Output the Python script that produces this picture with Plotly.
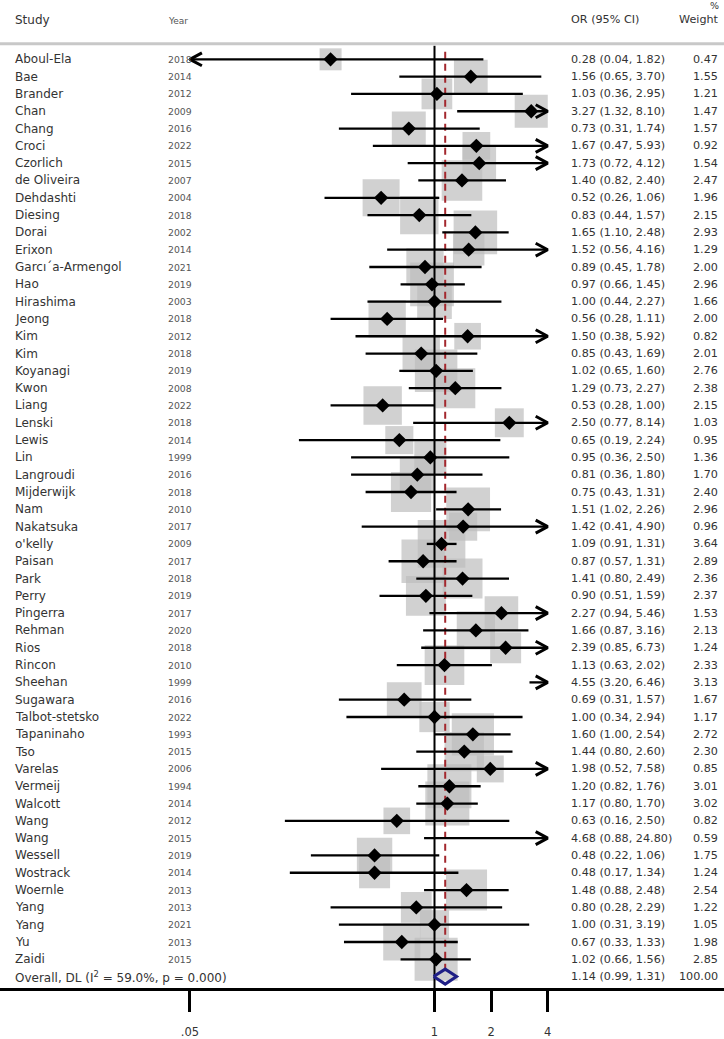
import numpy as np
import plotly.graph_objects as go

studies = ["Aboul-Ela", "Bae", "Brander", "Chan", "Chang", "Croci", "Czorlich", "de Oliveira",
           "Dehdashti", "Diesing", "Dorai", "Erixon", "Garcı´a-Armengol", "Hao", "Hirashima",
           "Jeong", "Kim", "Kim", "Koyanagi", "Kwon", "Liang", "Lenski", "Lewis", "Lin",
           "Langroudi", "Mijderwijk", "Nam", "Nakatsuka", "o'kelly", "Paisan", "Park", "Perry",
           "Pingerra", "Rehman", "Rios", "Rincon", "Sheehan", "Sugawara", "Talbot-stetsko",
           "Tapaninaho", "Tso", "Varelas", "Vermeij", "Walcott", "Wang", "Wang", "Wessell",
           "Wostrack", "Woernle", "Yang", "Yang", "Yu", "Zaidi"]
years = [2018, 2014, 2012, 2009, 2016, 2022, 2015, 2007, 2004, 2018, 2002, 2014, 2021, 2019,
         2003, 2018, 2012, 2018, 2019, 2008, 2022, 2018, 2014, 1999, 2016, 2018, 2010, 2017,
         2009, 2017, 2018, 2019, 2017, 2020, 2018, 2010, 1999, 2016, 2022, 1993, 2015, 2006,
         1994, 2014, 2012, 2015, 2019, 2014, 2013, 2013, 2021, 2013, 2015]
or_vals = [0.28, 1.56, 1.03, 3.27, 0.73, 1.67, 1.73, 1.40, 0.52, 0.83, 1.65, 1.52, 0.89, 0.97,
           1.00, 0.56, 1.50, 0.85, 1.02, 1.29, 0.53, 2.50, 0.65, 0.95, 0.81, 0.75, 1.51, 1.42,
           1.09, 0.87, 1.41, 0.90, 2.27, 1.66, 2.39, 1.13, 4.55, 0.69, 1.00, 1.60, 1.44, 1.98,
           1.20, 1.17, 0.63, 4.68, 0.48, 0.48, 1.48, 0.80, 1.00, 0.67, 1.02]
ci_low = [0.04, 0.65, 0.36, 1.32, 0.31, 0.47, 0.72, 0.82, 0.26, 0.44, 1.10, 0.56, 0.45, 0.66,
          0.44, 0.28, 0.38, 0.43, 0.65, 0.73, 0.28, 0.77, 0.19, 0.36, 0.36, 0.43, 1.02, 0.41,
          0.91, 0.57, 0.80, 0.51, 0.94, 0.87, 0.85, 0.63, 3.20, 0.31, 0.34, 1.00, 0.80, 0.52,
          0.82, 0.80, 0.16, 0.88, 0.22, 0.17, 0.88, 0.28, 0.31, 0.33, 0.66]
ci_high = [1.82, 3.70, 2.95, 8.10, 1.74, 5.93, 4.12, 2.40, 1.06, 1.57, 2.48, 4.16, 1.78, 1.45,
           2.27, 1.11, 5.92, 1.69, 1.60, 2.27, 1.00, 8.14, 2.24, 2.50, 1.80, 1.31, 2.26, 4.90,
           1.31, 1.31, 2.49, 1.59, 5.46, 3.16, 6.73, 2.02, 6.46, 1.57, 2.94, 2.54, 2.60, 7.58,
           1.76, 1.70, 2.50, 24.80, 1.06, 1.34, 2.48, 2.29, 3.19, 1.33, 1.56]
weights = [0.47, 1.55, 1.21, 1.47, 1.57, 0.92, 1.54, 2.47, 1.96, 2.15, 2.93, 1.29, 2.00, 2.96,
           1.66, 2.00, 0.82, 2.01, 2.76, 2.38, 2.15, 1.03, 0.95, 1.36, 1.70, 2.40, 2.96, 0.96,
           3.64, 2.89, 2.36, 2.37, 1.53, 2.13, 1.24, 2.33, 3.13, 1.67, 1.17, 2.72, 2.30, 0.85,
           3.01, 3.02, 0.82, 0.59, 1.75, 1.24, 2.54, 1.22, 1.05, 1.98, 2.85]
overall_or, overall_low, overall_high = 1.14, 0.99, 1.31
overall_weight = 100.00
i_squared, p_value = 59.0, 0.000

tick_vals = [0.05, 1, 2, 4]
tick_text = [".05", "1", "2", "4"]
x_clip_low, x_clip_high = 0.05, 4

# ---- geometry (pixel based layout) ----
W, H = 724, 1039
AX_Y = 991            # pixel y of x-axis line
ROW0 = 59.5           # pixel y of first row
ROWH = 17.36          # pixel spacing of rows
X1 = 434.5            # pixel x of OR = 1
DEC = 188.0           # pixels per decade


def row_of(py):
    return (py - ROW0) / ROWH


xr = [(0 - X1) / DEC, (W - X1) / DEC]
yr = [row_of(AX_Y), row_of(0)]

n = len(studies)
rows = list(range(n))
ov_row = n

FONT = "DejaVu Sans"
fig = go.Figure()

# boxes (weights)
bx, by, bs = [], [], []
for i in rows:
    if x_clip_low <= or_vals[i] <= x_clip_high:
        bx.append(or_vals[i]); by.append(i); bs.append(7.6 + 21 * np.sqrt(weights[i]))
fig.add_trace(go.Scatter(x=bx, y=by, mode="markers", hoverinfo="skip",
                         marker=dict(symbol="square", size=bs, color="#bdbdbd",
                                     line=dict(width=0))))

# vertical reference line at 1
fig.add_trace(go.Scatter(x=[1, 1], y=[row_of(46), row_of(AX_Y)], mode="lines",
                         line=dict(color="black", width=2), hoverinfo="skip"))
# overall dashed line
fig.add_trace(go.Scatter(x=[overall_or, overall_or], y=[row_of(52), ov_row - 0.42],
                         mode="lines", hoverinfo="skip",
                         line=dict(color="#a3282e", width=2, dash="7px,5px")))

# CI lines
lx, ly = [], []
ax_, ay_ = [], []
back = 10 ** (-12 / DEC)
dy = 6.5 / ROWH
for i in rows:
    a = max(ci_low[i], x_clip_low)
    b = min(ci_high[i], x_clip_high)
    lx += [a, b, None]; ly += [i, i, None]
    if ci_low[i] < x_clip_low:
        ax_ += [a / back, a, a / back, None]; ay_ += [i - dy, i, i + dy, None]
    if ci_high[i] > x_clip_high:
        ax_ += [b * back, b, b * back, None]; ay_ += [i - dy, i, i + dy, None]
fig.add_trace(go.Scatter(x=lx, y=ly, mode="lines", hoverinfo="skip",
                         line=dict(color="black", width=2.3)))
fig.add_trace(go.Scatter(x=ax_, y=ay_, mode="lines", hoverinfo="skip",
                         line=dict(color="black", width=3)))

# point estimates
px_, py_ = [], []
for i in rows:
    if x_clip_low <= or_vals[i] <= x_clip_high:
        px_.append(or_vals[i]); py_.append(i)
fig.add_trace(go.Scatter(x=px_, y=py_, mode="markers", hoverinfo="skip",
                         marker=dict(symbol="diamond", size=11, color="black",
                                     line=dict(width=0))))

# overall diamond
dh = 7.5 / ROWH
fig.add_trace(go.Scatter(x=[overall_low, overall_or, overall_high, overall_or, overall_low],
                         y=[ov_row, ov_row - dh, ov_row, ov_row + dh, ov_row],
                         mode="lines", hoverinfo="skip",
                         line=dict(color="#1f1f86", width=3)))

ann = []


def txt(x_px, row, s, size=12, color="#333333", anchor="left"):
    ann.append(dict(x=x_px / W, xref="paper", y=row, yref="y", text=s, showarrow=False,
                    xanchor=anchor, yanchor="middle",
                    font=dict(family=FONT, size=size, color=color)))


# headers
txt(13, row_of(20), "Study", 12)
txt(166, row_of(21), "Year", 9, "#555555")
txt(569, row_of(20), "OR (95% CI)", 11.2)
txt(721, row_of(6), "%", 9.5, "#333333", "right")
txt(721, row_of(20), "Weight", 11.2, "#333333", "right")

for i in rows:
    txt(13, i, studies[i], 12)
    txt(166, i, str(years[i]), 9.3, "#555555")
    txt(569, i, f"{or_vals[i]:.2f} ({ci_low[i]:.2f}, {ci_high[i]:.2f})", 11.2)
    txt(720, i, f"{weights[i]:.2f}", 11.2, "#333333", "right")

txt(13, ov_row, f"Overall, DL (I<sup>2</sup> = {i_squared:.1f}%, p = {p_value:.3f})", 12)
txt(569, ov_row, f"{overall_or:.2f} ({overall_low:.2f}, {overall_high:.2f})", 11.2)
txt(720, ov_row, f"{overall_weight:.2f}", 11.2, "#333333", "right")

fig.update_layout(
    width=W, height=H, autosize=False,
    margin=dict(l=0, r=0, t=0, b=H - AX_Y, pad=0),
    paper_bgcolor="white", plot_bgcolor="white",
    showlegend=False,
    annotations=ann,
    shapes=[dict(type="line", xref="paper", x0=0, x1=1, yref="y",
                 y0=row_of(44), y1=row_of(44), line=dict(color="#c8c8c8", width=3))],
    xaxis=dict(type="log", range=xr, tickvals=tick_vals, ticktext=tick_text,
               ticks="outside", ticklen=21, tickwidth=2.5, tickcolor="black",
               showline=True, linewidth=2.5, linecolor="black", showgrid=False,
               zeroline=False, ticklabelstandoff=10,
               tickfont=dict(family=FONT, size=11.5, color="#333333")),
    yaxis=dict(range=yr, visible=False, showgrid=False, zeroline=False),
)

fig.write_html("out.html", config={"displayModeBar": False},
               post_script="document.body.style.margin='0';document.body.style.overflow='hidden';")
